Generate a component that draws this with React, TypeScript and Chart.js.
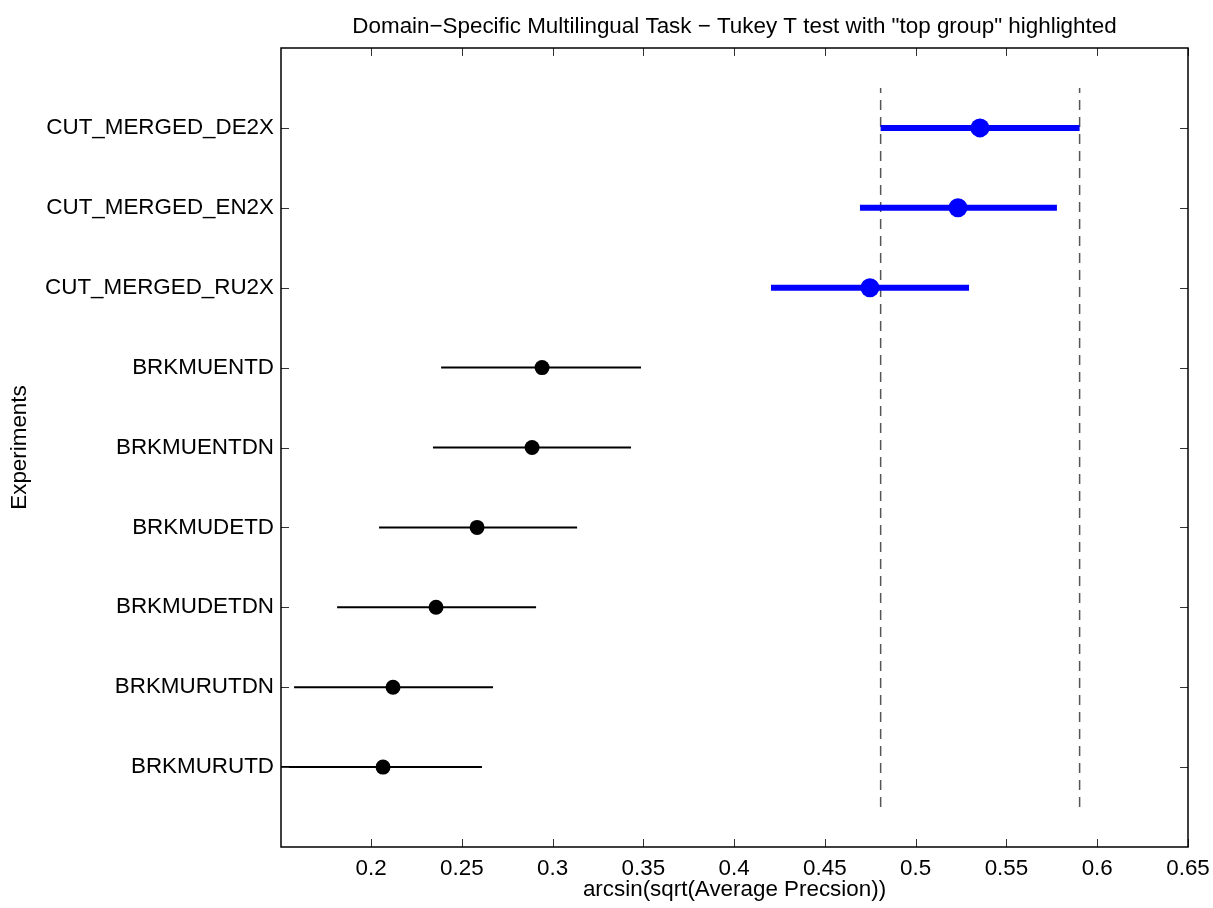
import { useEffect, useRef } from "react";
import { Chart, registerables } from "chart.js";

Chart.register(...registerables);

const experiments = [
  "CUT_MERGED_DE2X",
  "CUT_MERGED_EN2X",
  "CUT_MERGED_RU2X",
  "BRKMUENTD",
  "BRKMUENTDN",
  "BRKMUDETD",
  "BRKMUDETDN",
  "BRKMURUTDN",
  "BRKMURUTD",
];
const means = [0.5354, 0.5233, 0.4748, 0.2942, 0.2887, 0.2584, 0.2358, 0.2121, 0.2066];
const lowerBounds = [0.4807, 0.4693, 0.4203, 0.2386, 0.2341, 0.2044, 0.1813, 0.1576, 0.1504];
const upperBounds = [0.5903, 0.5778, 0.5294, 0.3487, 0.3432, 0.3135, 0.2909, 0.2672, 0.2611];
const inTopGroup = [true, true, true, false, false, false, false, false, false];
const groupBounds = [0.4807, 0.5903];
const xTickValues = [0.2, 0.25, 0.3, 0.35, 0.4, 0.45, 0.5, 0.55, 0.6, 0.65];
const xMin = 0.1504;
const xMax = 0.65;
const titleText = "Domain\u2212Specific Multilingual Task \u2212 Tukey T test with \"top group\" highlighted";
const xTitle = "arcsin(sqrt(Average Precsion))";
const yTitle = "Experiments";

const FONT = "'Liberation Sans', Arial, Helvetica, sans-serif";
const FS = 22.4;
const BLUE = "#0000FF";

const rowY = (i: number) => experiments.length - i;

const boxPlugin = {
  id: "matlabBox",
  afterDraw(chart: any) {
    const { ctx, chartArea: a, scales } = chart;
    ctx.save();
    ctx.strokeStyle = "#333";
    ctx.lineWidth = 1;
    const tl = 8;
    ctx.beginPath();
    scales.x.ticks.forEach((t: any) => {
      const px = Math.round(scales.x.getPixelForValue(t.value)) + 0.5;
      ctx.moveTo(px, a.bottom);
      ctx.lineTo(px, a.bottom - tl);
      ctx.moveTo(px, a.top);
      ctx.lineTo(px, a.top + tl);
    });
    scales.y.ticks.forEach((t: any) => {
      const py = Math.round(scales.y.getPixelForValue(t.value)) + 0.5;
      ctx.moveTo(a.left, py);
      ctx.lineTo(a.left + tl, py);
      ctx.moveTo(a.right, py);
      ctx.lineTo(a.right - tl, py);
    });
    ctx.stroke();
    ctx.strokeStyle = "#000";
    ctx.lineWidth = 1.5;
    ctx.strokeRect(a.left, a.top, a.right - a.left, a.bottom - a.top);
    ctx.restore();
  },
};

export default function App() {
  const canvasRef = useRef<HTMLCanvasElement | null>(null);

  useEffect(() => {
    if (!canvasRef.current) return;
    Chart.defaults.font.family = FONT;
    Chart.defaults.font.size = FS;
    Chart.defaults.color = "#000";

    const meanTop = experiments
      .map((_, i) => ({ x: means[i], y: rowY(i) }))
      .filter((_, i) => inTopGroup[i]);
    const meanRest = experiments
      .map((_, i) => ({ x: means[i], y: rowY(i) }))
      .filter((_, i) => !inTopGroup[i]);

    const datasets: any[] = [
      {
        label: "top means",
        data: meanTop,
        showLine: false,
        pointRadius: 9.5,
        pointBackgroundColor: BLUE,
        pointBorderWidth: 0,
        pointHoverRadius: 9.5,
      },
      {
        label: "means",
        data: meanRest,
        showLine: false,
        pointRadius: 7.5,
        pointBackgroundColor: "#000",
        pointBorderWidth: 0,
        pointHoverRadius: 7.5,
      },
    ];
    experiments.forEach((name, i) => {
      datasets.push({
        label: name,
        data: [
          { x: lowerBounds[i], y: rowY(i) },
          { x: upperBounds[i], y: rowY(i) },
        ],
        showLine: true,
        borderColor: inTopGroup[i] ? BLUE : "#000",
        borderWidth: inTopGroup[i] ? 6 : 2,
        borderCapStyle: "butt",
        pointRadius: 0,
        pointHoverRadius: 0,
      });
    });
    groupBounds.forEach((b, k) => {
      datasets.push({
        label: "bound" + k,
        data: [
          { x: b, y: 0.5 },
          { x: b, y: experiments.length + 0.5 },
        ],
        showLine: true,
        borderColor: "#555",
        borderWidth: 1.5,
        borderDash: [10, 7],
        pointRadius: 0,
        pointHoverRadius: 0,
      });
    });

    const chart = new Chart(canvasRef.current, {
      type: "scatter",
      data: { datasets },
      options: {
        animation: false,
        responsive: false,
        events: [],
        layout: { padding: { left: 0, top: 0, right: 25, bottom: 0 } },
        plugins: {
          legend: { display: false },
          tooltip: { enabled: false },
          title: {
            display: true,
            text: titleText,
            fullSize: false,
            color: "#000",
            font: { size: FS, weight: "normal", family: FONT, lineHeight: 1.2 },
            padding: { top: 13.5, bottom: 48 - 13.5 - FS * 1.2 },
          },
        },
        scales: {
          x: {
            type: "linear",
            min: xMin,
            max: xMax,
            afterBuildTicks: (scale: any) => {
              scale.ticks = xTickValues.map((v) => ({ value: v }));
            },
            afterFit: (scale: any) => {
              scale.height = 61;
              scale.paddingLeft = 0;
              scale.paddingRight = 0;
            },
            grid: { display: false, drawTicks: false },
            border: { display: false },
            ticks: {
              padding: 8,
              autoSkip: false,
              maxRotation: 0,
              callback: (v: any) => String(v),
              font: { size: FS, family: FONT },
            },
            title: {
              display: true,
              text: xTitle,
              font: { size: FS, family: FONT, lineHeight: 1.2 },
              padding: { top: 0, bottom: 4.5 },
            },
          },
          y: {
            type: "linear",
            min: 0,
            max: experiments.length + 1,
            afterBuildTicks: (scale: any) => {
              scale.ticks = experiments.map((_, i) => ({ value: rowY(i) }));
            },
            afterFit: (scale: any) => {
              scale.width = 281;
              scale.paddingTop = 0;
              scale.paddingBottom = 0;
            },
            grid: { display: false, drawTicks: false },
            border: { display: false },
            ticks: {
              padding: 7,
              autoSkip: false,
              callback: (v: any) => {
                const idx = experiments.length - Number(v);
                return experiments[idx] ?? "";
              },
              font: { size: FS, family: FONT },
            },
            title: {
              display: true,
              text: yTitle,
              font: { size: FS, family: FONT, lineHeight: 1.2 },
              padding: { top: 6.5, bottom: 0 },
            },
          },
        },
      },
      plugins: [boxPlugin],
    });
    return () => chart.destroy();
  }, []);

  return (
    <div style={{ position: "fixed", left: 0, top: 0, width: 1213, height: 908, background: "#fff" }}>
      <canvas ref={canvasRef} width={1213} height={908} style={{ width: 1213, height: 908, display: "block" }} />
    </div>
  );
}
